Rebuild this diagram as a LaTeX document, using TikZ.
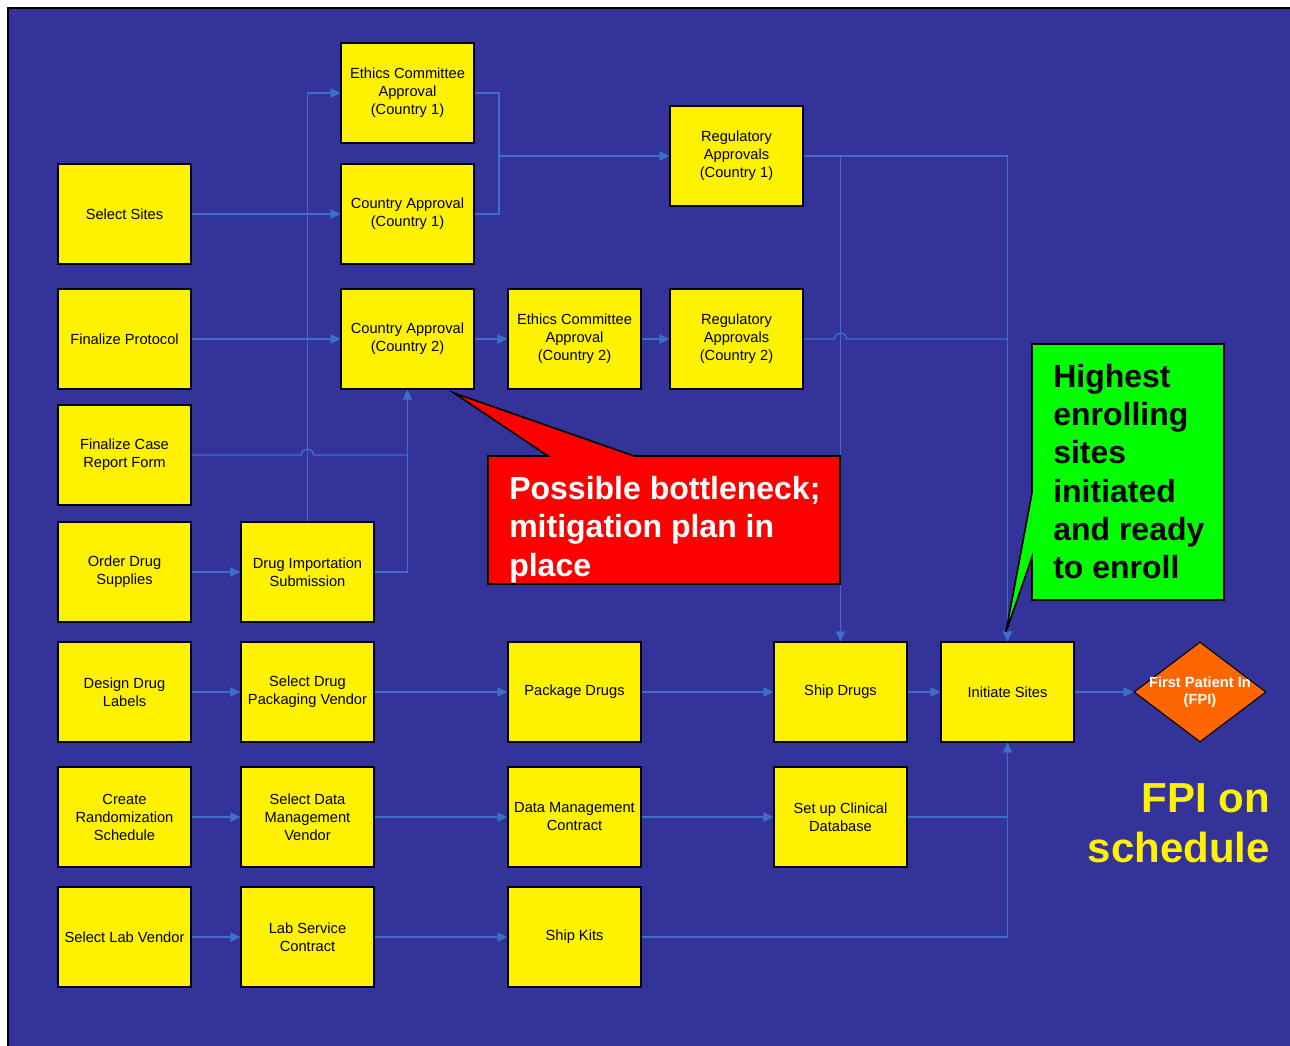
\documentclass[tikz,border=0pt]{standalone}
\usepackage{fontspec}
\setmainfont{Liberation Sans}
\usetikzlibrary{arrows.meta,shapes.geometric}
\definecolor{bgblue}{RGB}{51,51,153}
\definecolor{lnblue}{RGB}{61,111,201}
\definecolor{fpiorange}{RGB}{255,102,0}
\definecolor{cgreen}{RGB}{0,255,0}
\begin{document}
\begin{tikzpicture}[x=0.75pt,y=-0.75pt,
  box/.style={draw=black, line width=0.8pt, fill=yellow, minimum width=99.75pt, minimum height=75pt, inner sep=0pt, align=center, font=\fontsize{11}{13.5}\selectfont},
  line/.style={draw=lnblue, line width=1pt},
  conn/.style={line, -{Triangle[length=7.5pt,width=7pt]}},
  callout/.style={draw=black, line width=1.2pt, line join=miter},
  bigtext/.style={inner sep=0pt, font=\bfseries\fontsize{24}{28.9}\selectfont}
]
\useasboundingbox (0,0) rectangle (1290,1046);
\fill[white] (0,0) rectangle (1290,1046);
\fill[bgblue] (8,8) rectangle (1290,1046);
\draw[black, line width=2pt] (8,1046) -- (8,8) -- (1290,8);

% nodes
\node[box] (ec1)  at (407.5,93)  {Ethics Committee\\Approval\\(Country 1)};
\node[box] (ca1)  at (407.5,214) {Country Approval\\(Country 1)};
\node[box] (reg1) at (736.5,156) {Regulatory\\Approvals\\(Country 1)};
\node[box] (sites) at (124.5,214) {Select Sites};
\node[box] (prot) at (124.5,339) {Finalize Protocol};
\node[box] (ca2)  at (407.5,339) {Country Approval\\(Country 2)};
\node[box] (ec2)  at (574.5,339) {Ethics Committee\\Approval\\(Country 2)};
\node[box] (reg2) at (736.5,339) {Regulatory\\Approvals\\(Country 2)};
\node[box] (crf)  at (124.5,455) {Finalize Case\\Report Form};
\node[box] (ods)  at (124.5,572) {Order Drug\\Supplies};
\node[box] (dis)  at (307.5,572) {Drug Importation\\Submission};
\node[box] (ddl)  at (124.5,692) {Design Drug\\Labels};
\node[box] (pkv)  at (307.5,692) {Select Drug\\Packaging Vendor};
\node[box] (pkg)  at (574.5,692) {Package Drugs};
\node[box] (ship) at (840.5,692) {Ship Drugs};
\node[box] (init) at (1007.5,692) {Initiate Sites};
\node[diamond, draw=black, line width=0.8pt, fill=fpiorange, aspect=1.32, minimum width=99pt, minimum height=75pt, inner sep=0pt] (fpi) at (1200,692) {};
\node[align=center, text=white, inner sep=0pt, font=\bfseries\fontsize{11}{12.75}\selectfont] (fpitxt) at (fpi.center) {First Patient In\\(FPI)};
\node[box] (crs)  at (124.5,817) {Create\\Randomization\\Schedule};
\node[box] (dmv)  at (307.5,817) {Select Data\\Management\\Vendor};
\node[box] (dmc)  at (574.5,817) {Data Management\\Contract};
\node[box] (scd)  at (840.5,817) {Set up Clinical\\Database};
\node[box] (slv)  at (124.5,937) {Select Lab Vendor};
\node[box] (lsc)  at (307.5,937) {Lab Service\\Contract};
\node[box] (kits) at (574.5,937) {Ship Kits};

% junctions
\coordinate (j1) at (499,156);
\coordinate (j2) at (ca2.south |- crf.east);
\coordinate (j3) at (reg1.east -| ship.north);

% connectors
\draw[conn] (sites) -- (ca1);
\draw[conn] (prot) -- (ca2);
\draw[conn] (dis.north) |- (ec1.west);
\draw[line] (ec1.east) -| (j1);
\draw[line] (ca1.east) -| (j1);
\draw[conn] (j1) -- (reg1.west);
\draw[conn] (ca2) -- (ec2);
\draw[conn] (ec2) -- (reg2);
\draw[line] (crf.east) -- (301.5,455) .. controls (301.5,447) and (313.5,447) .. (313.5,455) -- (j2);
\draw[conn] (ods) -- (dis);
\draw[conn] (dis.east) -| (ca2.south);
\draw[conn] (reg1.east) -| (init.north);
\draw[conn] (j3) -- (ship.north);
\draw[line] (reg2.east) -- (834.5,339) .. controls (834.5,331) and (846.5,331) .. (846.5,339) -- (reg2.east -| init.north);
\draw[conn] (ddl) -- (pkv);
\draw[conn] (pkv) -- (pkg);
\draw[conn] (pkg) -- (ship);
\draw[conn] (ship) -- (init);
\draw[conn] (init.east) -- (fpi.west);
\draw[conn] (crs) -- (dmv);
\draw[conn] (dmv) -- (dmc);
\draw[conn] (dmc) -- (scd);
\draw[line] (scd.east) -- (scd.east -| init.south);
\draw[conn] (slv) -- (lsc);
\draw[conn] (lsc) -- (kits);
\draw[conn] (kits.east) -| (init.south);

% red callout
\draw[callout, fill=red] (488,456) -- (548,456) -- (454,393) -- (634,456) -- (840,456) -- (840,584) -- (488,584) -- cycle;
\node[bigtext, anchor=north west, align=left, text=white] (redtxt) at (509,476) {Possible bottleneck;\\mitigation plan in\\place};

% green callout
\draw[callout, fill=cgreen] (1032,344) -- (1224,344) -- (1224,600) -- (1032,600) -- (1032,557) -- (1006,632) -- (1032,493) -- cycle;
\node[bigtext, anchor=north west, align=left, text=black, font=\bfseries\fontsize{24}{28.7}\selectfont] (greentxt) at (1053,364) {Highest\\enrolling\\sites\\initiated\\and ready\\to enroll};

% FPI on schedule
\node[anchor=north east, inner sep=0pt, align=right, text=yellow, font=\bfseries\fontsize{31.5}{37.5}\selectfont] (sched) at (1270,783) {FPI on\\schedule};
\end{tikzpicture}
\end{document}
